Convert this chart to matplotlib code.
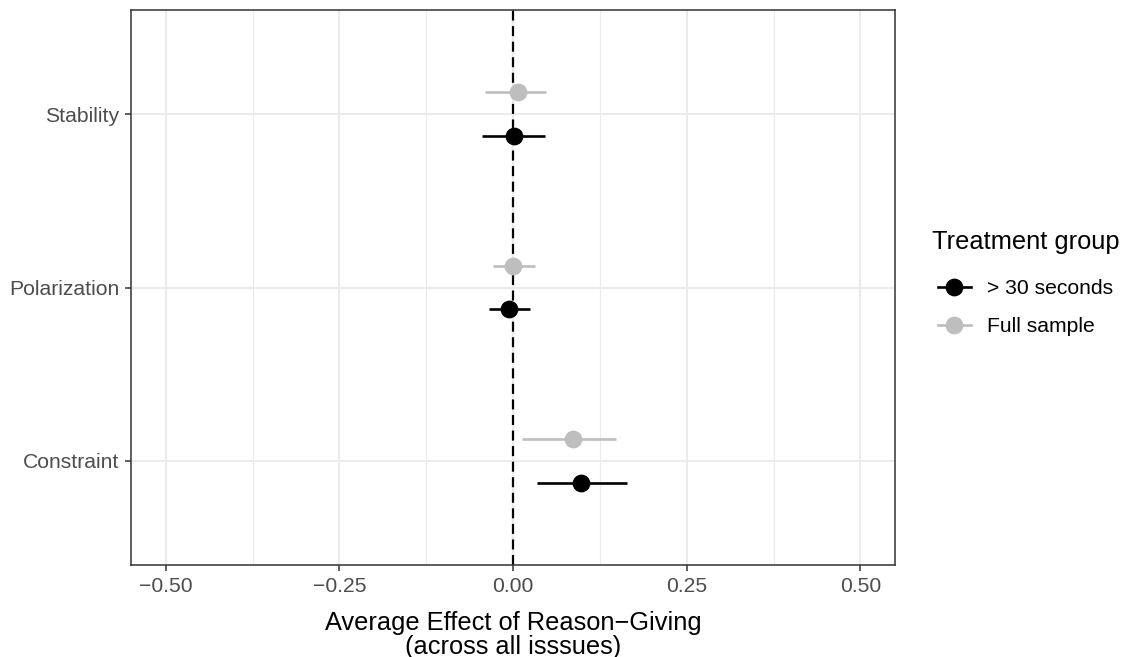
import numpy as np
import matplotlib.pyplot as plt
from matplotlib.lines import Line2D

plt.rcParams['font.family'] = ['Liberation Sans', 'DejaVu Sans']

outcomes = ["Stability", "Polarization", "Constraint"]

# > 30 seconds group: estimate, lower, upper
est_30 = [0.002, -0.006, 0.098]
lo_30 = [-0.044, -0.034, 0.035]
hi_30 = [0.046, 0.025, 0.164]

# full sample
est_full = [0.007, 0.000, 0.086]
lo_full = [-0.040, -0.029, 0.013]
hi_full = [0.048, 0.032, 0.148]

groups = ["> 30 seconds", "Full sample"]
colors = ["black", "#bebebe"]

fig = plt.figure(figsize=(11.27, 6.57), dpi=100)
ax = fig.add_axes([0.1162, 0.140, 0.6780, 0.8448])

ypos = np.array([3, 2, 1])
offset = 0.125

ax.axvline(0, color="black", lw=1.6, ls=(0, (4.5, 2.5)), zorder=2)

for est, lo, hi, col, dy in [(est_full, lo_full, hi_full, colors[1], offset),
                             (est_30, lo_30, hi_30, colors[0], -offset)]:
    est = np.array(est)
    xerr = [est - np.array(lo), np.array(hi) - est]
    ax.errorbar(est, ypos + dy, xerr=xerr, fmt="o", color=col, ecolor=col,
                elinewidth=1.9, markersize=11.8, capsize=0, zorder=3)

ax.set_xlim(-0.55, 0.55)
ax.set_ylim(0.4, 3.6)
xt = [-0.5, -0.25, 0, 0.25, 0.5]
ax.set_xticks(xt)
ax.set_xticklabels([f"{v:.2f}".replace("-", "\u2212") for v in xt])
ax.set_xticks([-0.375, -0.125, 0.125, 0.375], minor=True)
ax.set_yticks(ypos)
ax.set_yticklabels(outcomes)

ax.grid(True, which="major", color="#ebebeb", lw=1.5, zorder=0)
ax.grid(True, which="minor", axis="x", color="#ebebeb", lw=0.8, zorder=0)
ax.set_axisbelow(True)
ax.tick_params(which="minor", length=0)
ax.tick_params(which="major", length=4.3, width=1.1, color="#333333",
               labelcolor="#4d4d4d", labelsize=15.2, pad=4.3)
for s in ax.spines.values():
    s.set_color("#333333")
    s.set_linewidth(1.1)

ax.set_xlabel("Average Effect of Reason\u2212Giving\n(across all isssues)",
              fontsize=18.3, linespacing=1.0, labelpad=10.5)

# legend: title placed separately for tighter control of spacing
fig.text(932 / 1127, 1 - 242 / 657, "Treatment group", fontsize=18.3,
         ha="left", va="center")
handles = [Line2D([], [], color=c, marker="o", markersize=11.8, lw=1.9)
           for c in colors]
fig.legend(handles, groups, loc="upper left",
           bbox_to_anchor=(938 / 1127, 1 - 279 / 657), frameon=False,
           fontsize=15.2, handlelength=1.55, handletextpad=0.75,
           labelspacing=0.9, borderpad=0, borderaxespad=0)

fig.savefig("out.png", dpi=100)
